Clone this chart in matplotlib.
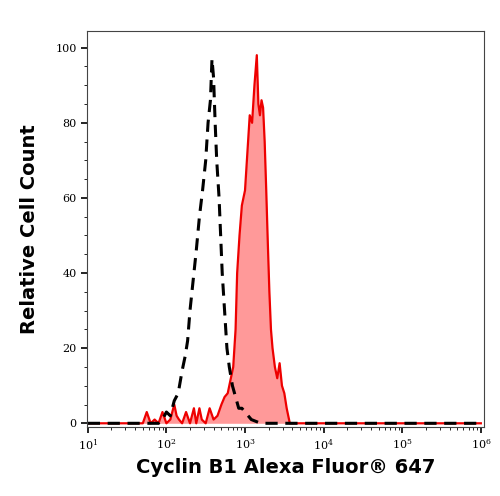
import matplotlib
matplotlib.use("Agg")
import matplotlib.pyplot as plt
import numpy as np

# log10 fluorescence positions and counts
red_logx = [1.0,1.5,1.7,1.75,1.8,1.85,1.9,1.95,2.0,2.05,2.1,2.13,2.16,2.2,2.25,2.3,2.35,2.38,2.42,2.45,2.5,2.55,2.6,2.65,2.7,2.74,2.78,2.82,2.85,2.88,2.9,2.93,2.96,3.0,3.03,3.06,3.09,3.12,3.15,3.17,3.19,3.21,3.23,3.25,3.27,3.29,3.31,3.33,3.35,3.38,3.41,3.44,3.47,3.5,3.53,3.57,3.6,4.0,5.0,6.0]
red_y   = [0,0,0,3,0,1,0,3,0,1,5,2,1,0,3,0,4,0,4,1,0,4,1,2,5,7,8,12,15,25,40,50,58,62,72,82,80,90,98,85,82,86,84,75,62,48,35,25,20,15,12,16,10,8,4,0,0,0,0,0]
blk_logx = [1.0,1.9,1.95,2.0,2.05,2.1,2.15,2.2,2.24,2.27,2.3,2.34,2.38,2.42,2.46,2.5,2.53,2.56,2.58,2.6,2.62,2.64,2.67,2.69,2.71,2.74,2.77,2.8,2.84,2.88,2.92,2.96,3.0,3.04,3.08,3.2,4.0,6.0]
blk_y    = [0,0,1,3,2,6,8,14,18,22,30,38,46,55,62,70,80,86,97,92,80,70,60,50,40,30,20,15,10,7,4,4,3,2,1,0,0,0]

fig = plt.figure(figsize=(5.0,4.96), dpi=100)
ax = fig.add_axes([0.174, 0.139, 0.794, 0.799])
rx = 10**np.array(red_logx); bx = 10**np.array(blk_logx)
ax.fill_between(rx, red_y, 0, color='#ff9999', lw=0)
ax.plot(rx, red_y, color='#ee0000', lw=1.6)
ax.plot(bx, blk_y, color='black', lw=2.2, ls=(0,(4,2.5)))
ax.set_xscale('log')
ax.set_xlim(10**0.99, 10**6.04)
ax.set_ylim(-1, 104.5)
ax.set_yticks([0,20,40,60,80,100])
ax.set_yticks(np.arange(0,101,5), minor=True)
ax.set_xticks([10**i for i in range(1,7)])
ax.tick_params(labelsize=8, direction='out', length=4, width=1.2)
for lab in ax.get_xticklabels()+ax.get_yticklabels():
    lab.set_fontfamily('DejaVu Serif')
for s in ax.spines.values():
    s.set_linewidth(0.8); s.set_color('#444444')
ax.set_xlabel('Cyclin B1 Alexa Fluor® 647', fontsize=14, fontweight='bold')
ax.set_ylabel('Relative Cell Count', fontsize=14, fontweight='bold', labelpad=12)
fig.savefig('out.png', dpi=100)
